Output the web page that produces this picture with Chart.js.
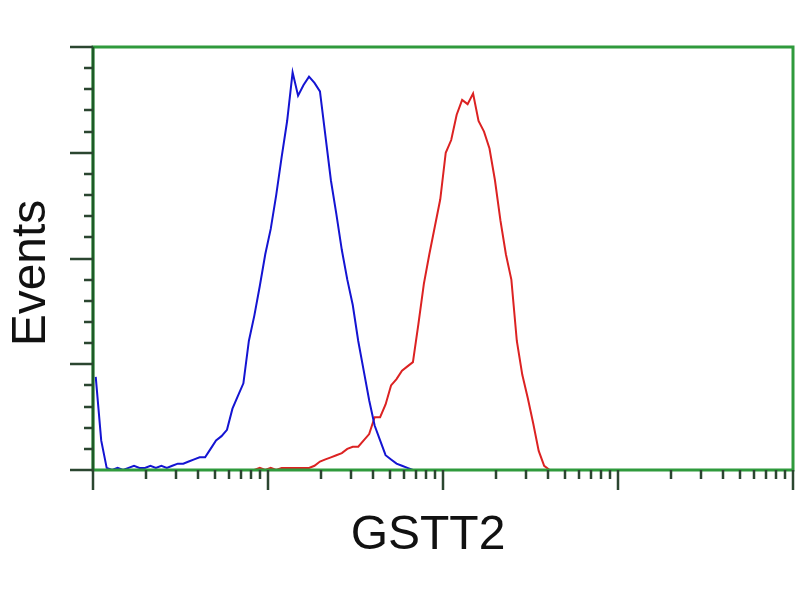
<!DOCTYPE html>
<html>
<head>
<meta charset="utf-8">
<script src="https://cdn.jsdelivr.net/npm/chart.js@4/dist/chart.umd.min.js"></script>
<style>
    html, body { margin: 0; padding: 0; background: #fff; }
    #wrap { width: 800px; height: 600px; }
</style>
</head>
<body>
<div id="wrap"><canvas id="histo"></canvas></div>
<script>
/* ============================
   GSTT2 flow histogram
   ============================ */

// fluorescence channels (0..1024 = 4 log decades), one bin every 8 channels
const BIN = 8;
const DECADES = 4;
const CH_PER_DECADE = 256;

// y axis ticks
const Y_MAX = 200;
const Y_MAJOR = 50;
const Y_MINOR = 10;

// control (blue) events per bin
const controlEvents = [
    44, 14, 1, 0, 1, 0, 1, 2, 1, 1, 2, 1, 2, 1, 2, 3,
    3, 4, 5, 6, 6, 10, 14, 16, 19, 29, 35, 41, 61, 73, 87, 102,
    114, 130, 148, 165, 188, 177, 182, 186, 183, 179, 158, 137, 121, 104, 90, 78,
    61, 47, 33, 21, 14, 7, 5, 3, 2, 1, 0
];

// GSTT2 transfected (red) events per bin, null = not drawn
const gsttEvents = [
    null, null, null, null, null, null, null, null, null, null, null, null, null, null, null, null,
    null, null, null, null, null, null, null, null, null, null, null, null, null, 0, 1, 0,
    1, 0, 1, 1, 1, 1, 1, 1, 2, 4, 5, 6, 7, 8, 10, 11,
    11, 14, 17, 25, 25, 31, 40, 43, 47, 49, 51, 69, 88, 102, 115, 128,
    150, 156, 168, 175, 173, 178, 165, 160, 152, 137, 118, 102, 90, 61, 45, 34,
    22, 9, 2, 0
];

const toPoints = arr => arr.map((v, i) => ({ x: i * BIN + BIN / 2, y: v }));

const FRAME = '#2f9a3c';
const AXIS = '#1d5a27';
const TICK = '#2b4630';

const frameAndTicks = {
    id: 'frameAndTicks',
    afterDatasetsDraw(chart) {
        const { ctx, chartArea: a, scales: { x, y } } = chart;
        ctx.save();

        // green frame
        ctx.strokeStyle = FRAME;
        ctx.lineWidth = 3;
        ctx.strokeRect(a.left, a.top, a.right - a.left, a.bottom - a.top);

        // dark left axis line
        ctx.strokeStyle = AXIS;
        ctx.lineWidth = 2.5;
        ctx.beginPath();
        ctx.moveTo(a.left, a.top);
        ctx.lineTo(a.left, a.bottom);
        ctx.stroke();

        ctx.strokeStyle = TICK;
        ctx.lineWidth = 2.5;
        ctx.beginPath();
        // y ticks
        for (let v = 0; v <= Y_MAX; v += Y_MINOR) {
            const py = Math.round(y.getPixelForValue(v));
            const len = v % Y_MAJOR === 0 ? 23 : 9;
            ctx.moveTo(a.left - len, py);
            ctx.lineTo(a.left, py);
        }
        // x ticks, log decades
        for (let d = 0; d <= DECADES; d++) {
            const px = Math.round(x.getPixelForValue(d * CH_PER_DECADE));
            ctx.moveTo(px, a.bottom);
            ctx.lineTo(px, a.bottom + 20);
            if (d === DECADES) break;
            for (let k = 2; k <= 9; k++) {
                const mx = Math.round(x.getPixelForValue((d + Math.log10(k)) * CH_PER_DECADE));
                ctx.moveTo(mx, a.bottom);
                ctx.lineTo(mx, a.bottom + 9);
            }
        }
        ctx.stroke();

        // axis titles
        ctx.fillStyle = '#111';
        ctx.font = '48px "Liberation Sans", Arial, sans-serif';
        ctx.textAlign = 'center';
        ctx.textBaseline = 'alphabetic';
        ctx.fillText('GSTT2', 428, 549);

        ctx.translate(45, 273);
        ctx.rotate(-Math.PI / 2);
        ctx.fillText('Events', 0, 0);

        ctx.restore();
    }
};

new Chart(document.getElementById('histo'), {
    type: 'line',
    data: {
        datasets: [{
            label: 'Control',
            data: toPoints(controlEvents),
            borderColor: '#1414d2',
            borderWidth: 2,
            pointRadius: 0,
            tension: 0,
            fill: false,
        }, {
            label: 'GSTT2',
            data: toPoints(gsttEvents),
            borderColor: '#dc2222',
            borderWidth: 2,
            pointRadius: 0,
            tension: 0,
            fill: false,
        }]
    },
    options: {
        responsive: true,
        maintainAspectRatio: false,
        animation: false,
        layout: { padding: { top: 47, right: 7, left: 0, bottom: 0 } },
        plugins: {
            legend: { display: false },
            tooltip: { enabled: false },
        },
        scales: {
            x: {
                type: 'linear',
                min: 0,
                max: DECADES * CH_PER_DECADE,
                grid: { display: false },
                border: { display: false },
                ticks: { display: false },
                afterFit: s => { s.height = 130; }
            },
            y: {
                min: 0,
                max: Y_MAX,
                grid: { display: false },
                border: { display: false },
                ticks: { display: false },
                afterFit: s => { s.width = 93; }
            }
        }
    },
    plugins: [frameAndTicks]
});
</script>
</body>
</html>
